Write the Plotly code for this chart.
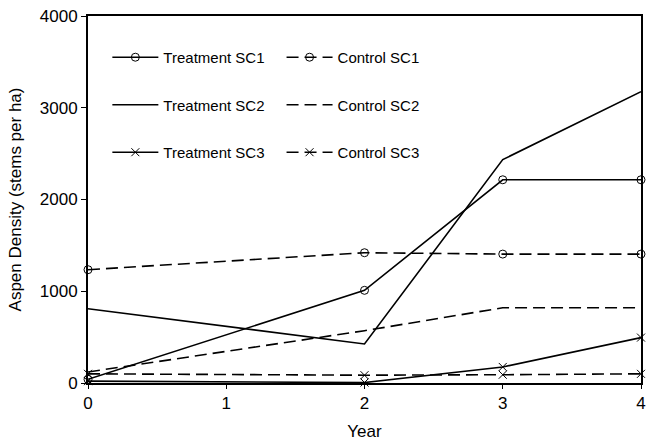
import plotly.graph_objects as go

years = [0, 2, 3, 4]
treat_sc1 = [40, 1010, 2215, 2215]
treat_sc2 = [810, 425, 2435, 3175]
treat_sc3 = [20, 5, 175, 495]
ctrl_sc1 = [1235, 1420, 1405, 1405]
ctrl_sc2 = [120, 570, 820, 820]
ctrl_sc3 = [100, 85, 90, 100]

x_ticks = [0, 1, 2, 3, 4]
y_ticks = [0, 1000, 2000, 3000, 4000]

font = "Liberation Sans, Arial, sans-serif"
dash = "12px,6px"

fig = go.Figure()

def add(name, y, dashed, symbol, legend, grp):
    mode = "lines+markers" if symbol else "lines"
    fig.add_trace(go.Scatter(
        x=years, y=y, name=name, mode=mode,
        line=dict(color="black", width=1.6, dash=dash if dashed else "solid"),
        marker=dict(symbol=symbol or "circle", size=8, color="black",
                    line=dict(color="black", width=1)),
        legend=legend, legendgroup=grp, cliponaxis=False,
    ))

add("Treatment SC1", treat_sc1, False, "circle-open", "legend", "a")
add("Treatment SC2", treat_sc2, False, None, "legend", "b")
add("Treatment SC3", treat_sc3, False, "x-thin-open", "legend", "c")
add("Control SC1", ctrl_sc1, True, "circle-open", "legend2", "d")
add("Control SC2", ctrl_sc2, True, None, "legend2", "e")
add("Control SC3", ctrl_sc3, True, "x-thin-open", "legend2", "f")

legend_common = dict(font=dict(family=font, size=15, color="black"), bgcolor="rgba(0,0,0,0)",
                     tracegroupgap=25, itemwidth=46, yanchor="top", xanchor="left")

fig.update_layout(
    width=646, height=441,
    margin=dict(l=88, r=5, t=16, b=58),
    paper_bgcolor="white", plot_bgcolor="white",
    font=dict(family=font, size=17, color="black"),
    legend=dict(x=0.035, y=0.932, **legend_common),
    legend2=dict(x=0.35, y=0.932, **legend_common),
    xaxis=dict(range=[0, 4], tickvals=x_ticks, showgrid=False, zeroline=False,
               showline=True, linecolor="black", linewidth=2, mirror=True,
               ticks="outside", ticklen=4, tickcolor="black", automargin=False,
               tickfont=dict(size=17),
               title=dict(text="Year", font=dict(size=17), standoff=13)),
    yaxis=dict(range=[0, 4000], tickvals=y_ticks, showgrid=False, zeroline=False,
               showline=True, linecolor="black", linewidth=2, mirror=True,
               ticks="outside", ticklen=5, tickcolor="black", automargin=False,
               tickfont=dict(size=17),
               title=dict(text="Aspen Density (stems per ha)", font=dict(size=17), standoff=14)),
)

fig.write_html("out.html", config={"responsive": False, "displayModeBar": False},
               post_script="document.body.style.margin='0';document.body.style.overflow='hidden';")
